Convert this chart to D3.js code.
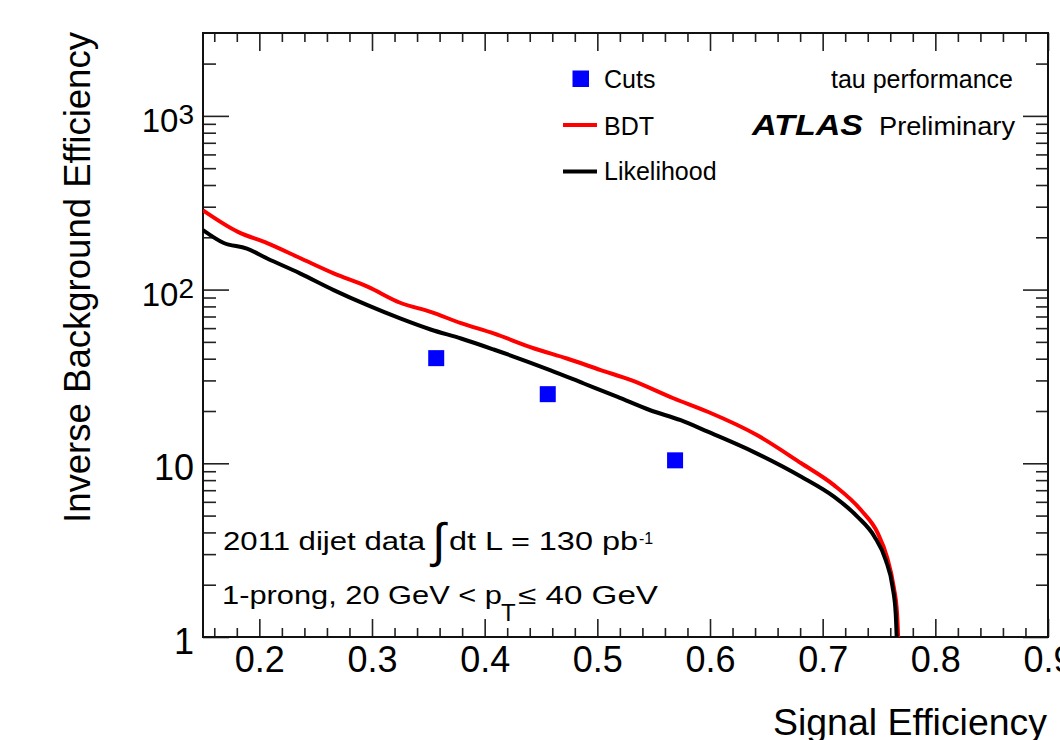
<!DOCTYPE html>
<html><head><meta charset="utf-8">
<script src="https://cdn.jsdelivr.net/npm/d3@7"></script>
<style>
body{margin:0;background:#fff}
svg{display:block}
text{font-family:"Liberation Sans",Arial,Helvetica,sans-serif;fill:#000}
</style>
</head><body>
<svg id="c" width="1060" height="740"></svg>
<script>
// ---- data ----
const bdtEff = [0.150, 0.181, 0.207, 0.236, 0.266, 0.296, 0.325, 0.352, 0.379, 0.408, 0.444, 0.473, 0.503, 0.530, 0.568, 0.598, 0.642, 0.681, 0.710, 0.734, 0.749, 0.757, 0.763, 0.766, 0.767];
const bdtRej = [286, 215, 185, 152, 124, 104, 84, 74.4, 64.1, 55.9, 45.8, 40.1, 34.4, 30.1, 23.6, 19.8, 14.5, 10.0, 7.49, 5.38, 3.95, 2.90, 1.95, 1.37, 1.0];
const likEff = [0.150, 0.168, 0.189, 0.207, 0.236, 0.266, 0.296, 0.325, 0.352, 0.379, 0.408, 0.458, 0.488, 0.518, 0.547, 0.574, 0.598, 0.639, 0.681, 0.710, 0.731, 0.746, 0.756, 0.762, 0.7648, 0.7657];
const likRej = [220, 186, 172, 151, 124, 99.3, 81.3, 68.2, 58.9, 52.3, 45.2, 34.4, 28.8, 24.1, 20.2, 17.7, 15.2, 11.6, 8.36, 6.42, 4.92, 3.78, 2.77, 1.95, 1.37, 1.0];
const cutsEff = [0.357, 0.456, 0.569];
const cutsRej = [40.3, 25.0, 10.4];

const xMajorTicks = [0.2, 0.3, 0.4, 0.5, 0.6, 0.7, 0.8, 0.9];
const xTickLabels = ["0.2", "0.3", "0.4", "0.5", "0.6", "0.7", "0.8", "0.9"];
const xMinorTicks = [0.16,0.18,0.22,0.24,0.26,0.28,0.32,0.34,0.36,0.38,0.42,0.44,0.46,0.48,0.52,0.54,0.56,0.58,0.62,0.64,0.66,0.68,0.72,0.74,0.76,0.78,0.82,0.84,0.86,0.88];
const yMajorTicks = [1, 10, 100, 1000];
const yTickBase = ["1", "10", "10", "10"];
const yTickExp = ["", "", "2", "3"];
const yMinorTicks = [2,3,4,5,6,7,8,9,20,30,40,50,60,70,80,90,200,300,400,500,600,700,800,900,2000];

const seriesNames = ["Cuts", "BDT", "Likelihood"];
const seriesColors = ["#0000ff", "#ff0000", "#000000"];

// ---- layout ----
const L = 203, R = 1048, T = 33, B = 637;
const svg = d3.select("#c");
const x = d3.scaleLinear().domain([0.15, 0.9]).range([L, R]);
const y = d3.scaleLog().domain([1, 3000]).range([B, T]);

svg.append("defs").append("clipPath").attr("id", "clip")
  .append("rect").attr("x", L).attr("y", T).attr("width", R - L).attr("height", B - T);

function styleAxis(g) {
  g.select(".domain").remove();
  g.attr("color", "#222");
  g.selectAll(".tick line").attr("stroke-width", 1.6);
}

// bottom axis
const gxB = svg.append("g").attr("transform", `translate(0,${B})`)
  .call(d3.axisBottom(x).tickValues(xMajorTicks).tickSize(-18).tickFormat((d, i) => xTickLabels[i]));
styleAxis(gxB);
gxB.attr("font-size", 36).attr("font-family", null);
gxB.selectAll("text").attr("y", 35).attr("dy", 0).attr("fill", "#000");
const gxBm = svg.append("g").attr("transform", `translate(0,${B})`)
  .call(d3.axisBottom(x).tickValues(xMinorTicks).tickSize(-9).tickFormat(""));
styleAxis(gxBm);

// top axis
const gxT = svg.append("g").attr("transform", `translate(0,${T})`)
  .call(d3.axisTop(x).tickValues(xMajorTicks).tickSize(-18).tickFormat(""));
styleAxis(gxT);
const gxTm = svg.append("g").attr("transform", `translate(0,${T})`)
  .call(d3.axisTop(x).tickValues(xMinorTicks).tickSize(-9).tickFormat(""));
styleAxis(gxTm);

// left axis
const gyL = svg.append("g").attr("transform", `translate(${L},0)`)
  .call(d3.axisLeft(y).tickValues(yMajorTicks).tickSize(-26).tickPadding(9).tickFormat((d, i) => yTickBase[i]));
styleAxis(gyL);
gyL.attr("font-family", null).attr("font-size", null);
gyL.selectAll(".tick text").each(function(d, i) {
  const t = d3.select(this);
  t.text(null).attr("dy", 16).attr("fill", "#000");
  if (yTickExp[i]) {
    t.attr("font-size", 33);
    t.append("tspan").text(yTickBase[i]);
    t.append("tspan").attr("font-size", 28).attr("dy", -8).text(yTickExp[i]);
  } else {
    t.attr("font-size", 36);
    t.append("tspan").text(yTickBase[i]);
  }
});
const gyLm = svg.append("g").attr("transform", `translate(${L},0)`)
  .call(d3.axisLeft(y).tickValues(yMinorTicks).tickSize(-13).tickFormat(""));
styleAxis(gyLm);

// right axis
const gyR = svg.append("g").attr("transform", `translate(${R},0)`)
  .call(d3.axisRight(y).tickValues(yMajorTicks).tickSize(-25).tickFormat(""));
styleAxis(gyR);
const gyRm = svg.append("g").attr("transform", `translate(${R},0)`)
  .call(d3.axisRight(y).tickValues(yMinorTicks).tickSize(-12).tickFormat(""));
styleAxis(gyRm);

// frame
svg.append("rect").attr("x", L).attr("y", T).attr("width", R - L).attr("height", B - T)
  .attr("fill", "none").attr("stroke", "#111").attr("stroke-width", 2);

// curves
const line = d3.line().x(d => x(d[0])).y(d => y(d[1])).curve(d3.curveMonotoneX);
const plot = svg.append("g").attr("clip-path", "url(#clip)");
plot.append("path").datum(d3.zip(bdtEff, bdtRej))
  .attr("d", line).attr("fill", "none").attr("stroke", seriesColors[1])
  .attr("stroke-width", 4).attr("stroke-linejoin", "round");
plot.append("path").datum(d3.zip(likEff, likRej))
  .attr("d", line).attr("fill", "none").attr("stroke", seriesColors[2])
  .attr("stroke-width", 4).attr("stroke-linejoin", "round");
const sq = 16;
plot.selectAll("rect.cut").data(d3.zip(cutsEff, cutsRej)).join("rect")
  .attr("class", "cut")
  .attr("x", d => x(d[0]) - sq / 2).attr("y", d => y(d[1]) - sq / 2)
  .attr("width", sq).attr("height", sq).attr("fill", seriesColors[0]);

// legend
const lg = svg.append("g");
lg.append("rect").attr("x", 572.5).attr("y", 70.5).attr("width", 16.5).attr("height", 16.5).attr("fill", seriesColors[0]);
lg.append("line").attr("x1", 563).attr("x2", 597).attr("y1", 125).attr("y2", 125).attr("stroke", seriesColors[1]).attr("stroke-width", 4);
lg.append("line").attr("x1", 563).attr("x2", 597).attr("y1", 171.5).attr("y2", 171.5).attr("stroke", seriesColors[2]).attr("stroke-width", 4);
const lgY = [88, 135, 180];
seriesNames.forEach((n, i) => {
  lg.append("text").attr("x", 604).attr("y", lgY[i]).attr("font-size", 25).text(n);
});

// labels
svg.append("text").attr("x", 1013).attr("y", 88).attr("font-size", 25).attr("text-anchor", "end").text("tau performance");
svg.append("text").attr("x", 752).attr("y", 135).attr("font-size", 30).attr("font-weight", "bold").attr("font-style", "italic")
  .attr("textLength", 111).attr("lengthAdjust", "spacingAndGlyphs").text("ATLAS");
svg.append("text").attr("x", 879).attr("y", 135).attr("font-size", 25)
  .attr("textLength", 136).attr("lengthAdjust", "spacingAndGlyphs").text("Preliminary");

// bottom-left annotation
svg.append("text").attr("x", 223).attr("y", 550).attr("font-size", 26)
  .attr("textLength", 202).attr("lengthAdjust", "spacingAndGlyphs").text("2011 dijet data");
svg.append("text").attr("x", 432).attr("y", 557).attr("font-size", 48).text("\u222B");
svg.append("text").attr("x", 449).attr("y", 550).attr("font-size", 26)
  .attr("textLength", 189).attr("lengthAdjust", "spacingAndGlyphs").text("dt L = 130 pb");
svg.append("text").attr("x", 639).attr("y", 544).attr("font-size", 16).text("-1");

svg.append("text").attr("x", 222).attr("y", 604).attr("font-size", 26)
  .attr("textLength", 280).attr("lengthAdjust", "spacingAndGlyphs").text("1-prong, 20 GeV < p");
svg.append("text").attr("x", 501).attr("y", 621).attr("font-size", 24).text("T");
svg.append("text").attr("x", 518).attr("y", 604).attr("font-size", 26)
  .attr("textLength", 140).attr("lengthAdjust", "spacingAndGlyphs").text("\u2264 40 GeV");

// axis titles
svg.append("text").attr("x", 773).attr("y", 735).attr("font-size", 36)
  .attr("textLength", 274).attr("lengthAdjust", "spacingAndGlyphs").text("Signal Efficiency");
svg.append("text").attr("transform", "translate(90,523) rotate(-90)").attr("font-size", 36)
  .attr("textLength", 491).attr("lengthAdjust", "spacingAndGlyphs").text("Inverse Background Efficiency");
</script>
</body></html>
